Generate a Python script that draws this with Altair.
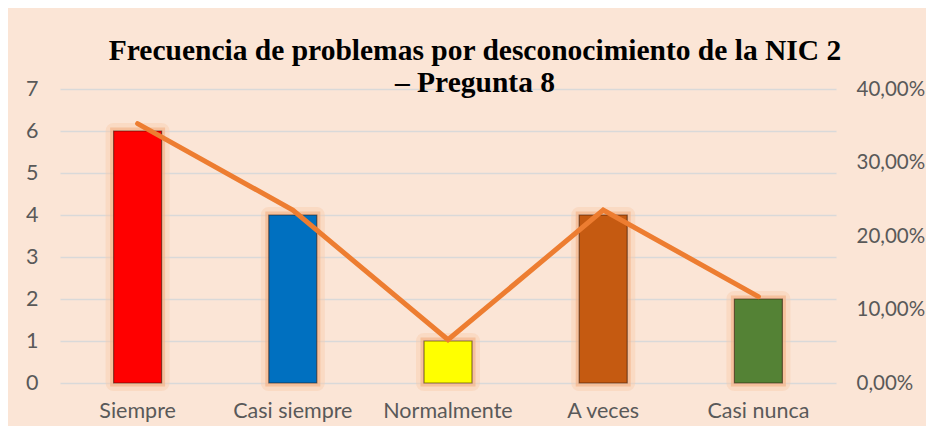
import altair as alt
import pandas as pd

categories = ["Siempre", "Casi siempre", "Normalmente", "A veces", "Casi nunca"]
frecuencia = [6, 4, 1, 4, 2]
porcentaje = [0.3529, 0.2353, 0.0588, 0.2353, 0.1176]
bar_colors = ["#FF0000", "#0070C0", "#FFFF00", "#C55A11", "#548235"]

df = pd.DataFrame({"cat": categories, "f": frecuencia, "p": porcentaje, "c": bar_colors})

label_font = "Lato"
x = alt.X("cat:N", sort=categories, title=None,
          scale=alt.Scale(paddingInner=0.69, paddingOuter=0.345),
          axis=alt.Axis(labelAngle=0, labelFont=label_font, labelFontSize=21.5,
                        labelColor="#595959", labelPadding=17, domain=False, ticks=False))

y_left = alt.Y("f:Q", title=None,
               scale=alt.Scale(domain=[0, 7]),
               axis=alt.Axis(values=[0, 1, 2, 3, 4, 5, 6, 7], labelFont=label_font, labelFontSize=21.5,
                             labelColor="#595959", labelPadding=22, domain=False, ticks=False,
                             grid=True, gridColor="#D9D9D9", gridWidth=1.5))

base = alt.Chart(df)

glow_outer = base.mark_bar(size=48, stroke="#F8CBAD", strokeWidth=16, strokeOpacity=0.45,
                           fillOpacity=0.0, strokeJoin="round").encode(x=x, y=y_left)
glow_inner = base.mark_bar(size=48, stroke="#F4B183", strokeWidth=7, strokeOpacity=0.6,
                           fillOpacity=0.0).encode(x=x, y=y_left)
bars = base.mark_bar(size=48, stroke="#2a1005", strokeWidth=1.2, strokeOpacity=0.55).encode(
    x=x, y=y_left, color=alt.Color("c:N", scale=None))

left = alt.layer(glow_outer, glow_inner, bars)

line = base.mark_line(color="#ED7D31", strokeWidth=5, strokeCap="round").encode(
    x=x,
    y=alt.Y("p:Q", title=None, scale=alt.Scale(domain=[0, 0.4]),
            axis=alt.Axis(orient="right", values=[0, 0.1, 0.2, 0.3, 0.4],
                          labelExpr="replace(format(datum.value, '.2%'), '.', ',')",
                          labelFont=label_font, labelFontSize=20.5, labelColor="#595959",
                          labelPadding=20, domain=False, ticks=False, grid=False)))

chart = alt.layer(left, line).resolve_scale(y="independent").properties(
    width=776, height=294,
    title=alt.TitleParams(
        text=["Frecuencia de problemas por desconocimiento de la NIC 2", "– Pregunta 8"],
        font="Liberation Serif", fontSize=29.5, fontWeight="bold", color="#000000",
        anchor="middle", dx=27, offset=-20, lineHeight=32),
    background="#FBE5D6",
    autosize=alt.AutoSizeParams(type="none"),
    padding={"left": 52, "top": 81, "right": 90, "bottom": 43},
).configure_view(stroke=None)

chart.save("out.html", embed_options={"renderer": "svg", "actions": False})
